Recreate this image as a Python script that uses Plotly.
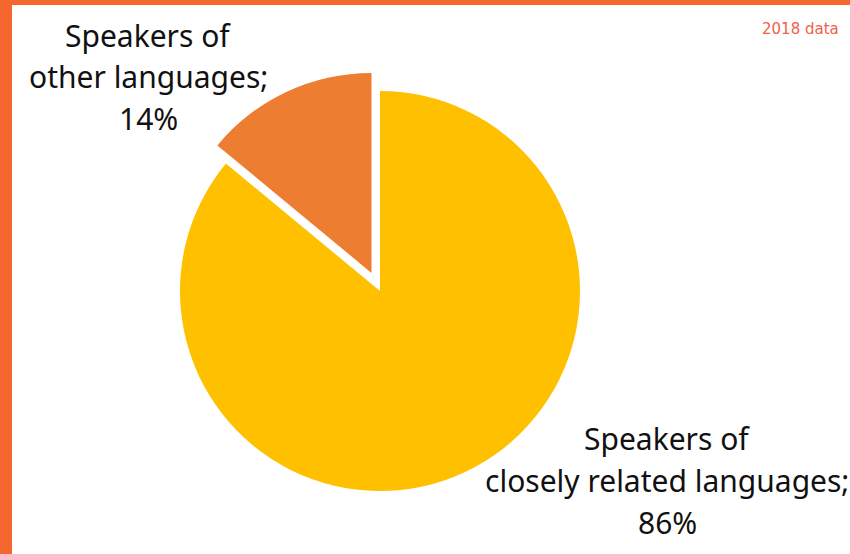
import plotly.graph_objects as go

# Share of speakers by language group
groups = ["Speakers of closely related languages", "Speakers of other languages"]
shares = [86, 14]
label_lines = [
    ["Speakers of", "closely related languages;", "86%"],
    ["Speakers of", "other languages;", "14%"],
]
colors = ["#FFC000", "#ED7D31"]
pulls = [0, 0.1]
note = "2018 data"

W, H = 850, 554

fig = go.Figure(
    go.Pie(
        labels=groups,
        values=shares,
        sort=False,
        direction="clockwise",
        rotation=0,
        pull=pulls,
        marker=dict(colors=colors, line=dict(width=0)),
        textinfo="none",
        hoverinfo="label+percent",
        showlegend=False,
        domain=dict(x=[160 / W, 600 / W], y=[43 / H, 483 / H]),
    )
)

label_font = dict(family="Noto Sans, Open Sans, sans-serif", size=30, color="#111111")
# (centre x, first baseline y) for each slice label, px; lines 42 px apart
label_pos = [(667, 449), (148, 46)]
for lines, (cx, base) in zip(label_lines, label_pos):
    for i, line in enumerate(lines):
        cy = base + 42 * i - 11
        fig.add_annotation(
            x=cx / W, y=1 - cy / H, xref="paper", yref="paper",
            text=line, showarrow=False, align="center",
            xanchor="center", yanchor="middle", font=label_font,
        )

fig.add_annotation(
    x=841 / W, y=1 - 29 / H, xref="paper", yref="paper", text=note,
    showarrow=False, xanchor="right", yanchor="middle",
    font=dict(family="DejaVu Sans, sans-serif", size=15, color="#F2604A"),
)

# frame strips along top and left edges
fig.add_shape(type="rect", xref="paper", yref="paper", x0=0, x1=1, y0=1 - 5 / H, y1=1,
              fillcolor="#F6672F", line=dict(width=0), layer="above")
fig.add_shape(type="rect", xref="paper", yref="paper", x0=0, x1=12 / W, y0=0, y1=1,
              fillcolor="#F6672F", line=dict(width=0), layer="above")

fig.update_layout(
    width=W, height=H,
    margin=dict(l=0, r=0, t=0, b=0),
    paper_bgcolor="white", plot_bgcolor="white",
)

fig.write_html("out.html")
